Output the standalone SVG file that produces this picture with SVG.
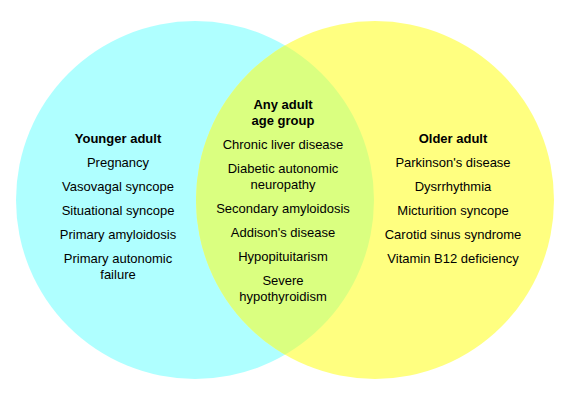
<svg xmlns="http://www.w3.org/2000/svg" width="570" height="400" viewBox="0 0 570 400">
  <style>
    text { font-family: "Liberation Sans", Arial, sans-serif; font-size: 13px; fill: #000; text-anchor: middle; }
    .title { font-weight: bold; }
    .left { fill: #AFFFFF; }
    .right { fill: #FFFF80; }
    .both { fill: #DAFF80; }
  </style>
  <defs>
    <clipPath id="clipRight">
      <circle cx="375" cy="200" r="179"/>
    </clipPath>
  </defs>
  <rect x="0" y="0" width="570" height="400" fill="#FFFFFF"/>
  <g id="younger-adult">
    <circle class="left" cx="195" cy="200" r="179"/>
  </g>
  <g id="older-adult">
    <circle class="right" cx="375" cy="200" r="179"/>
  </g>
  <g id="any-adult-age-group">
    <circle class="both" cx="195" cy="200" r="179" clip-path="url(#clipRight)"/>
  </g>
  <g id="younger-adult-labels">
    <text class="title" x="118" y="143">Younger adult</text>
    <text x="118" y="167">Pregnancy</text>
    <text x="118" y="191">Vasovagal syncope</text>
    <text x="118" y="215">Situational syncope</text>
    <text x="118" y="239">Primary amyloidosis</text>
    <text x="118" y="263">Primary autonomic</text>
    <text x="118" y="279">failure</text>
  </g>
  <g id="any-adult-labels">
    <text class="title" x="283" y="109">Any adult</text>
    <text class="title" x="283" y="125">age group</text>
    <text x="283" y="149">Chronic liver disease</text>
    <text x="283" y="173">Diabetic autonomic</text>
    <text x="283" y="189">neuropathy</text>
    <text x="283" y="213">Secondary amyloidosis</text>
    <text x="283" y="237">Addison's disease</text>
    <text x="283" y="261">Hypopituitarism</text>
    <text x="283" y="285">Severe</text>
    <text x="283" y="301">hypothyroidism</text>
  </g>
  <g id="older-adult-labels">
    <text class="title" x="453" y="143">Older adult</text>
    <text x="453" y="167">Parkinson's disease</text>
    <text x="453" y="191">Dysrrhythmia</text>
    <text x="453" y="215">Micturition syncope</text>
    <text x="453" y="239">Carotid sinus syndrome</text>
    <text x="453" y="263">Vitamin B12 deficiency</text>
  </g>
  <g id="connectors"/>
</svg>
